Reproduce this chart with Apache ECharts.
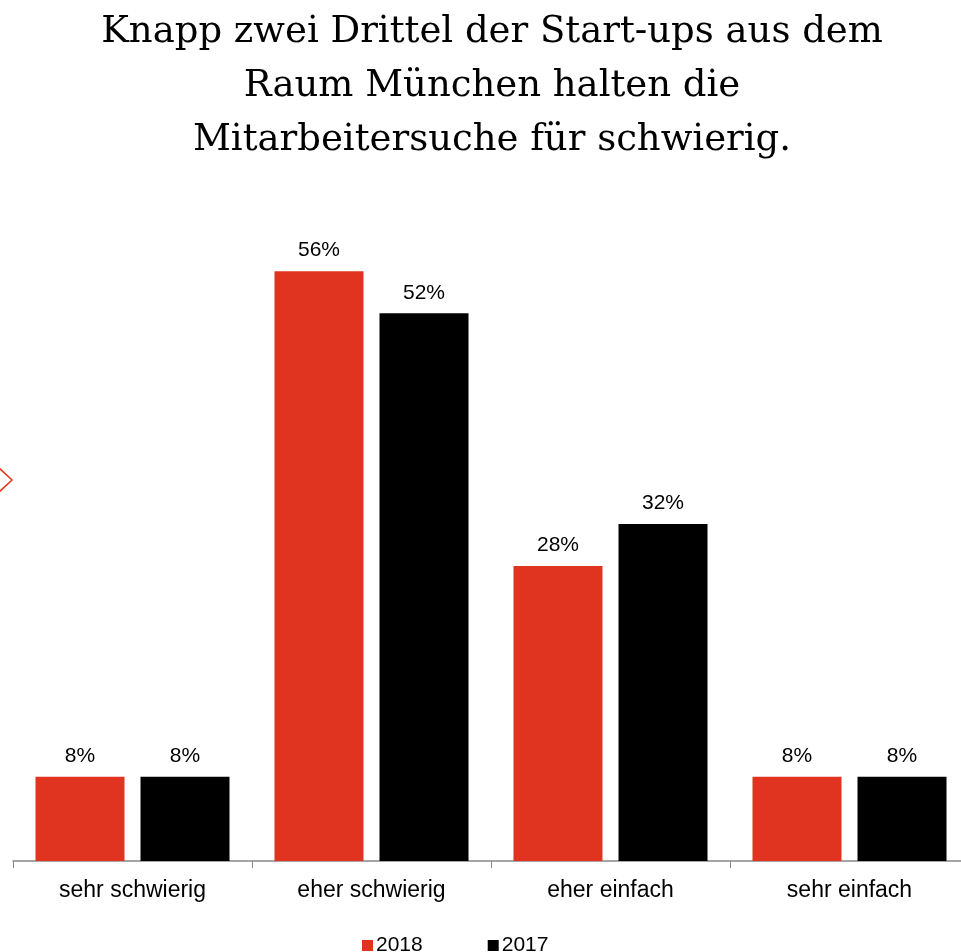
<!DOCTYPE html>
<html>
<head>
<meta charset="utf-8">
<script src="https://cdn.jsdelivr.net/npm/echarts@6/dist/echarts.min.js"></script>
<style>
  html, body { margin: 0; padding: 0; background: #fff; }
  #chart { width: 961px; height: 952px; }
</style>
</head>
<body>
<div id="chart"></div>
<script>
const categories = ['sehr schwierig', 'eher schwierig', 'eher einfach', 'sehr einfach']
const values2018 = [8, 56, 28, 8]
const values2017 = [8, 52, 32, 8]
const seriesNames = ['2018', '2017']

const chart = echarts.init(document.getElementById('chart'))
const labelStyle = {
  show: true,
  position: 'top',
  distance: 10,
  formatter: '{c}%',
  color: '#000',
  fontFamily: 'Liberation Sans',
  fontSize: 21,
}
chart.setOption({
  animation: false,
  title: {
    text: 'Knapp zwei Drittel der Start-ups aus dem\nRaum München halten die\nMitarbeitersuche für schwierig.',
    left: 492,
    top: 0,
    textAlign: 'center',
    padding: [5, 0, 5, 0],
    textStyle: {
      fontFamily: 'DejaVu Serif',
      fontWeight: 'normal',
      fontSize: 37,
      lineHeight: 54,
      color: '#000',
    },
  },
  legend: {
    top: 930,
    left: 357,
    itemGap: 65,
    itemWidth: 11,
    itemHeight: 11,
    icon: 'rect',
    textStyle: { fontFamily: 'Liberation Sans', fontSize: 21, color: '#000', padding: [0, 0, 0, -2] },
    data: seriesNames,
  },
  grid: { left: 13, width: 956, top: 229, bottom: 91, outerBoundsMode: 'none' },
  xAxis: {
    type: 'category',
    data: categories,
    axisLine: { lineStyle: { color: '#888', width: 1.5 } },
    axisTick: { show: true, length: 7, lineStyle: { color: '#888' } },
    axisLabel: { color: '#000', fontFamily: 'Liberation Sans', fontSize: 23, margin: 18 },
  },
  yAxis: {
    type: 'value',
    min: 0,
    max: 60,
    show: false,
  },
  series: [
    {
      name: seriesNames[0],
      type: 'bar',
      data: values2018,
      barWidth: 89,
      barGap: '18%',
      itemStyle: { color: '#E03420' },
      label: labelStyle,
    },
    {
      name: seriesNames[1],
      type: 'bar',
      data: values2017,
      barWidth: 89,
      itemStyle: { color: '#000' },
      label: labelStyle,
    },
  ],
  graphic: [
    {
      type: 'polyline',
      shape: { points: [[-2, 467], [12, 480], [-2, 493]] },
      style: { stroke: '#E03420', lineWidth: 1.5, fill: null },
    },
  ],
})
</script>
</body>
</html>
